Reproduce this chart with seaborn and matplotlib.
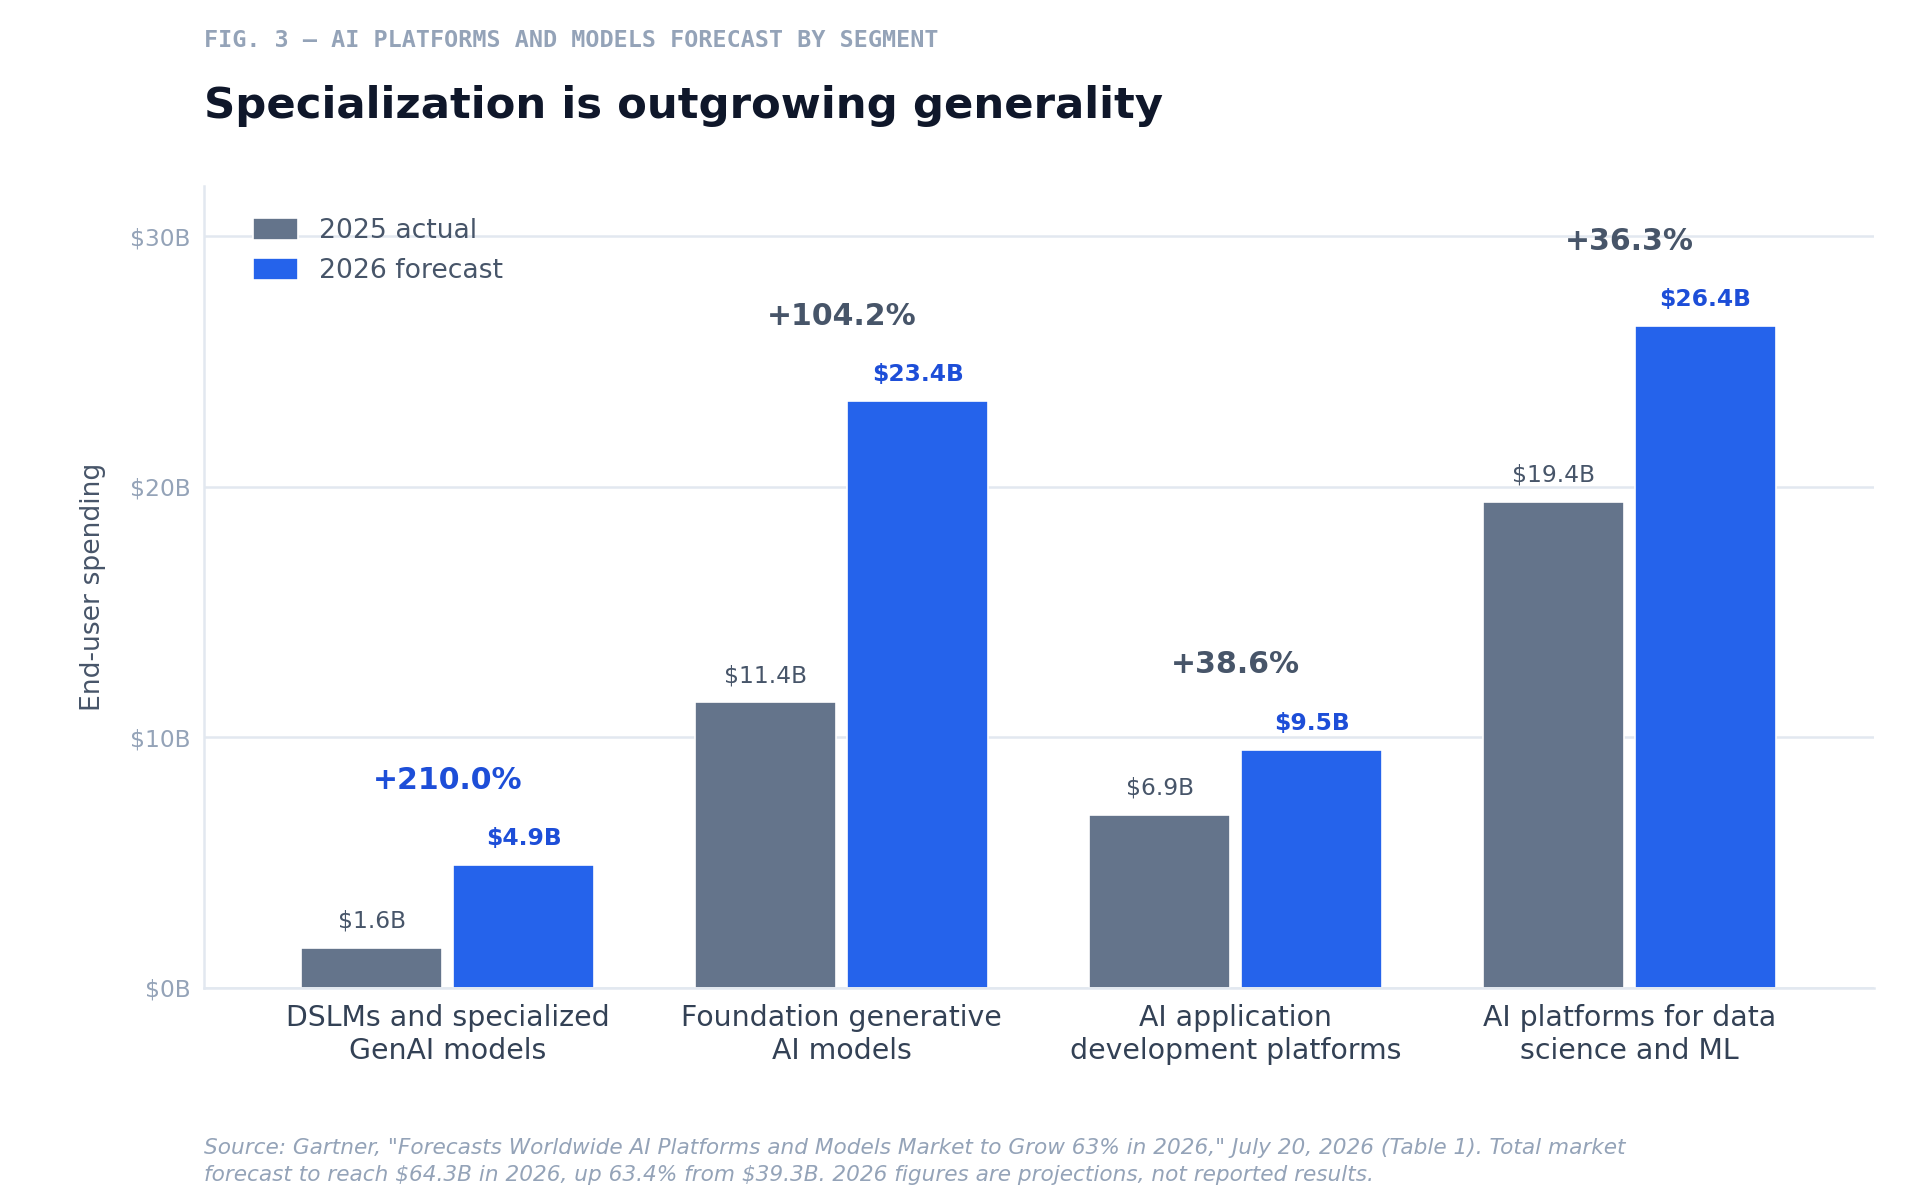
import matplotlib
matplotlib.use("Agg")
import matplotlib.pyplot as plt
import seaborn as sns
import pandas as pd

categories = ["DSLMs and specialized\nGenAI models", "Foundation generative\nAI models",
              "AI application\ndevelopment platforms", "AI platforms for data\nscience and ML"]
actual_2025 = [1.6, 11.4, 6.9, 19.4]
forecast_2026 = [4.9, 23.4, 9.5, 26.4]
growth_labels = ["+210.0%", "+104.2%", "+38.6%", "+36.3%"]
series = ["2025 actual", "2026 forecast"]

df = pd.DataFrame({
    "cat": categories * 2,
    "val": actual_2025 + forecast_2026,
    "series": [series[0]] * 4 + [series[1]] * 4,
})

sns.set_theme(style="white")
plt.rcParams['font.family'] = ['DejaVu Sans']
plt.rcParams['text.parse_math'] = False
fig = plt.figure(figsize=(16, 10), dpi=120)
ax = fig.add_axes([0.106, 0.177, 0.87, 0.668])
sns.barplot(data=df, x="cat", y="val", hue="series", palette=["#64748b", "#2563eb"],
            width=0.77, gap=0.07, ax=ax, saturation=1)
ax.set_ylim(0, 32)
ax.set_xlim(-0.62, 3.62)
ax.set_yticks([0, 10, 20, 30])
ax.set_yticklabels(["$0B", "$10B", "$20B", "$30B"], color="#94a3b8", fontsize=14)
ax.tick_params(axis="x", labelsize=17, colors="#334155", length=0, pad=10)
ax.tick_params(axis="y", length=0, pad=8)
ax.grid(axis="y", color="#e2e8f0", linewidth=1.5)
ax.set_axisbelow(True)
for s in ["top", "right"]:
    ax.spines[s].set_visible(False)
for s in ["left", "bottom"]:
    ax.spines[s].set_color("#e2e8f0")
    ax.spines[s].set_linewidth(1.5)
ax.set_xlabel("")
ax.set_ylabel("End-user spending", fontsize=16, color="#475569", labelpad=14)

off = 0.77 / 4
for i in range(4):
    a, f = actual_2025[i], forecast_2026[i]
    ax.text(i - off, a + 0.6, f"${a}B", ha="center", va="bottom", fontsize=14, color="#475569")
    ax.text(i + off, f + 0.6, f"${f}B", ha="center", va="bottom", fontsize=14, color="#1d4ed8", fontweight="bold")
    ax.text(i, f + 2.8, growth_labels[i], ha="center", va="bottom", fontsize=18, fontweight="bold",
            color="#1d4ed8" if i == 0 else "#475569")

leg = ax.legend(loc="upper left", bbox_to_anchor=(0.015, 0.99), frameon=False, fontsize=16,
                handlelength=1.7, handleheight=0.9, labelcolor="#475569")

fig.text(0.106, 0.966, "FIG. 3 — AI PLATFORMS AND MODELS FORECAST BY SEGMENT", fontsize=14,
         fontweight="bold", color="#94a3b8", family="DejaVu Sans Mono", va="center")
fig.text(0.106, 0.912, "Specialization is outgrowing generality", fontsize=26, fontweight="bold",
         color="#0f172a", va="center")
fig.text(0.106, 0.032, "Source: Gartner, \"Forecasts Worldwide AI Platforms and Models Market to Grow 63% in 2026,\" July 20, 2026 (Table 1). Total market\nforecast to reach $64.3B in 2026, up 63.4% from $39.3B. 2026 figures are projections, not reported results.",
         fontsize=13, style="italic", color="#94a3b8", va="center", linespacing=1.4)
fig.savefig("out.png", dpi=120, facecolor="white")
